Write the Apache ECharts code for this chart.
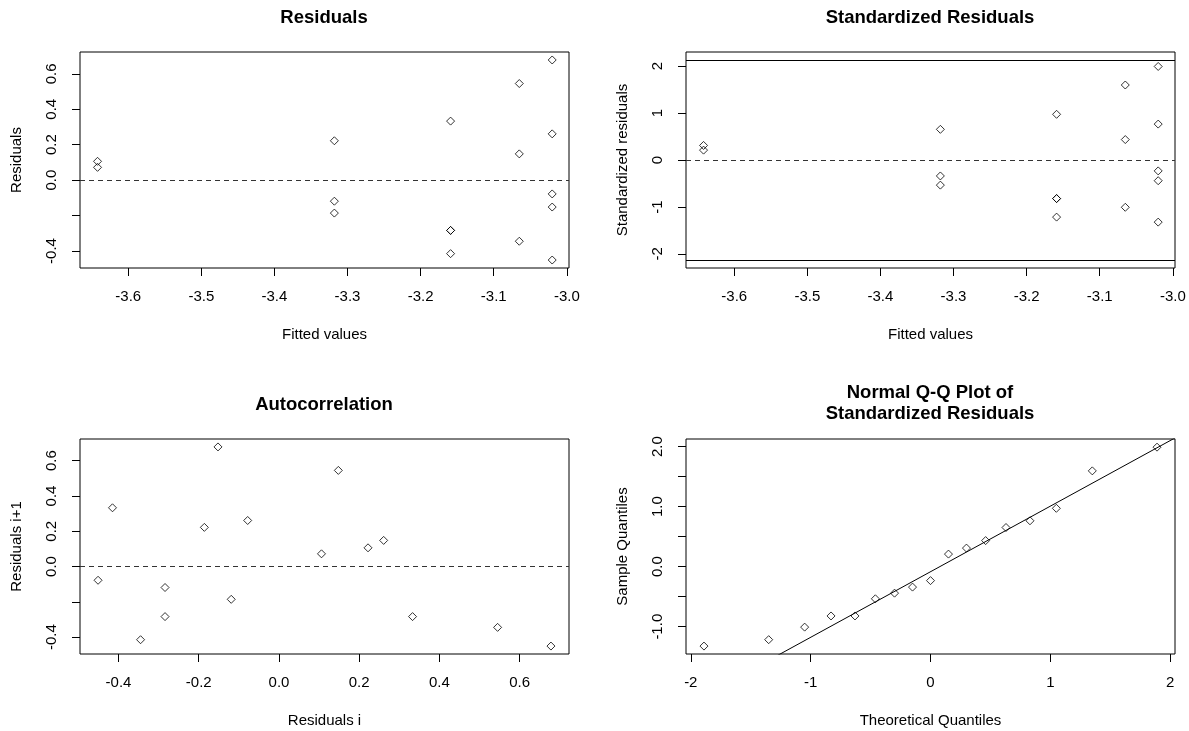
<!DOCTYPE html>
<html>
<head>
<meta charset="utf-8">
<script src="https://cdn.jsdelivr.net/npm/echarts@6/dist/echarts.min.js"></script>
<style>
html,body{margin:0;padding:0;background:#fff;}
#c{width:1189px;height:731px;}
</style>
</head>
<body>
<div id="c"></div>
<script>
// ---- data ----
const fitted = [-3.020, -3.020, -3.020, -3.020, -3.020, -3.065, -3.065, -3.065, -3.159, -3.159, -3.159, -3.159, -3.318, -3.318, -3.318, -3.642, -3.642];
const residuals = [-0.152, 0.678, -0.451, -0.078, 0.261, 0.148, 0.545, -0.345, -0.415, 0.333, -0.284, -0.284, -0.119, -0.186, 0.222, 0.106, 0.072];
const stdResiduals = [-0.441, 1.992, -1.323, -0.232, 0.765, 0.435, 1.597, -1.007, -1.216, 0.973, -0.821, -0.821, -0.340, -0.535, 0.653, 0.310, 0.210];
const theoQuantiles = [-1.89, -1.35, -1.05, -0.83, -0.63, -0.46, -0.30, -0.15, 0, 0.15, 0.30, 0.46, 0.63, 0.83, 1.05, 1.35, 1.89];
const stdLimit = 2.131;
const qqIntercept = -0.084;
const qqSlope = 1.093;

const fittedTicks = [-3.6, -3.5, -3.4, -3.3, -3.2, -3.1, -3.0];
const residTicks = [-0.4, -0.2, 0, 0.2, 0.4, 0.6];
const residLabels = [-0.4, 0, 0.2, 0.4, 0.6];
const stdTicks = [-2, -1, 0, 1, 2];
const autoXTicks = [-0.4, -0.2, 0, 0.2, 0.4, 0.6];
const qqXTicks = [-2, -1, 0, 1, 2];
const qqYTicks = [-1, -0.5, 0, 0.5, 1, 1.5, 2];
const qqYLabels = [-1, 0, 1, 2];

const titles = ['Residuals', 'Standardized Residuals', 'Autocorrelation', 'Normal Q-Q Plot of\nStandardized Residuals'];

// ---- derived ----
const resPts = fitted.map((f, i) => [f, residuals[i]]);
const stdPts = fitted.map((f, i) => [f, stdResiduals[i]]);
const autoPts = residuals.slice(0, -1).map((r, i) => [r, residuals[i + 1]]);
const sortedStd = stdResiduals.slice().sort((a, b) => a - b);
const qqPts = theoQuantiles.map((q, i) => [q, sortedStd[i]]);
const qqLine = [-2.2, 2.2].map(x => [x, qqIntercept + qqSlope * x]);

const FONT = 'Liberation Sans, Arial, sans-serif';
const FS = 15;
const grids = [
  {left: 80, right: 620, top: 52, height: 216},
  {left: 686, right: 14, top: 52, height: 216},
  {left: 80, right: 620, top: 439, height: 215},
  {left: 686, right: 14, top: 439, height: 215}
].map(g => Object.assign(g, {show: true, borderColor: '#000', borderWidth: 1, backgroundColor: 'transparent'}));

function xAxis(idx, min, max, ticks, labels, fmt, name) {
  return {
    gridIndex: idx, type: 'value', min, max, name,
    nameLocation: 'middle', nameGap: 59,
    nameTextStyle: {fontFamily: FONT, fontSize: FS, color: '#000'},
    axisLine: {show: false, onZero: false},
    axisTick: {show: true, length: 8, customValues: ticks, lineStyle: {color: '#000'}},
    axisLabel: {show: true, customValues: labels, formatter: fmt, margin: 21,
      fontFamily: FONT, fontSize: FS, color: '#000'},
    splitLine: {show: false}
  };
}
function yAxis(idx, min, max, ticks, labels, fmt, name) {
  return {
    gridIndex: idx, type: 'value', min, max, name,
    nameLocation: 'middle', nameGap: 56, nameRotate: 90,
    nameTextStyle: {fontFamily: FONT, fontSize: FS, color: '#000'},
    axisLine: {show: false, onZero: false},
    axisTick: {show: true, length: 8, customValues: ticks, lineStyle: {color: '#000'}},
    axisLabel: {show: true, customValues: labels, formatter: fmt, margin: 21, rotate: 90,
      fontFamily: FONT, fontSize: FS, color: '#000'},
    splitLine: {show: false}
  };
}
const f1 = v => Number(v).toFixed(1);
const f0 = v => Number(v).toFixed(0);

function scatter(idx, data, extra) {
  return Object.assign({
    type: 'scatter', xAxisIndex: idx, yAxisIndex: idx, data,
    symbol: 'diamond', symbolSize: [8, 8],
    itemStyle: {color: 'transparent', borderColor: '#000', borderWidth: 1},
    silent: true, z: 5
  }, extra || {});
}
function hline(values, type, color) {
  return {
    silent: true, symbol: 'none', animation: false,
    label: {show: false},
    lineStyle: {type, color, width: 1},
    data: values.map(v => ({yAxis: v}))
  };
}

const option = {
  animation: false,
  backgroundColor: '#fff',
  textStyle: {fontFamily: FONT},
  title: [
    {text: titles[0], left: 324, top: 7, textAlign: 'center'},
    {text: titles[1], left: 930, top: 7, textAlign: 'center'},
    {text: titles[2], left: 324, top: 394, textAlign: 'center'},
    {text: titles[3], left: 930, top: 382, textAlign: 'center'}
  ].map(t => Object.assign(t, {padding: 0, textStyle: {fontFamily: FONT, fontSize: 18.5, fontWeight: 'bold', color: '#000', lineHeight: 21}})),
  grid: grids,
  xAxis: [
    xAxis(0, -3.666, -2.997, fittedTicks, fittedTicks, f1, 'Fitted values'),
    xAxis(1, -3.666, -2.997, fittedTicks, fittedTicks, f1, 'Fitted values'),
    xAxis(2, -0.496, 0.723, autoXTicks, autoXTicks, f1, 'Residuals i'),
    xAxis(3, -2.04, 2.04, qqXTicks, qqXTicks, f0, 'Theoretical Quantiles')
  ],
  yAxis: [
    yAxis(0, -0.496, 0.723, residTicks, residLabels, f1, 'Residuals'),
    yAxis(1, -2.30, 2.30, stdTicks, stdTicks, f0, 'Standardized residuals'),
    yAxis(2, -0.496, 0.723, residTicks, residLabels, f1, 'Residuals i+1'),
    yAxis(3, -1.455, 2.128, qqYTicks, qqYLabels, f1, 'Sample Quantiles')
  ],
  series: [
    scatter(0, resPts, {markLine: hline([0], [5, 4], '#333')}),
    scatter(1, stdPts, {markLine: hline([0], [5, 4], '#333')}),
    {type: 'line', xAxisIndex: 1, yAxisIndex: 1, data: [], silent: true,
      markLine: hline([stdLimit, -stdLimit], 'solid', '#000')},
    scatter(2, autoPts, {markLine: hline([0], [5, 4], '#333')}),
    scatter(3, qqPts),
    {type: 'line', xAxisIndex: 3, yAxisIndex: 3, data: qqLine, showSymbol: false, symbol: 'none',
      clip: true, silent: true, lineStyle: {color: '#000', width: 1}, z: 3}
  ]
};
echarts.init(document.getElementById('c'), null, {renderer: 'canvas'}).setOption(option);
</script>
</body>
</html>
